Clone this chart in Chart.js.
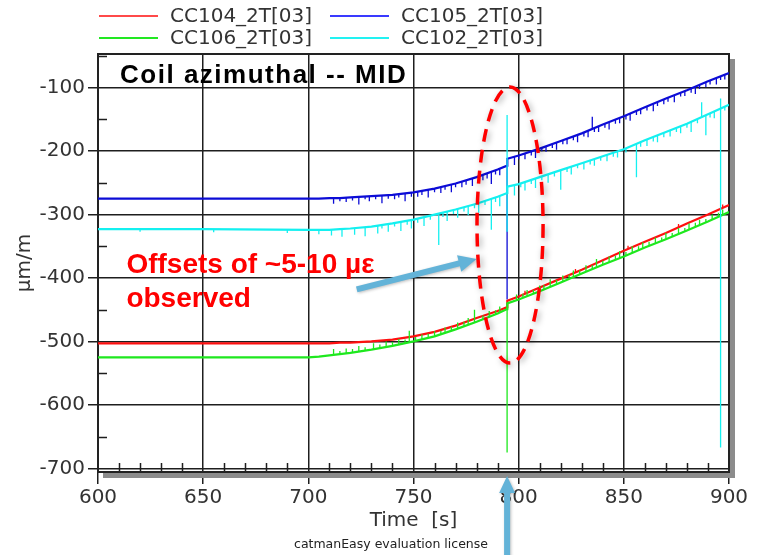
<!DOCTYPE html>
<html>
<head>
<meta charset="utf-8">
<title>Coil azimuthal -- MID</title>
<script src="https://cdn.jsdelivr.net/npm/chart.js@4.4.1/dist/chart.umd.min.js"></script>
<style>
  html, body { margin: 0; padding: 0; background: #fff; }
  #wrap { width: 759px; height: 555px; }
</style>
</head>
<body>
<div id="wrap"><canvas id="strainChart" width="759" height="555"></canvas></div>
<script>
// time axis [s]
const times = [600, 650, 700, 705, 710, 715, 720, 730, 740, 750, 760, 770, 780, 790, 794.5, 794.6,
               800, 810, 820, 830, 840, 850, 860, 870, 880, 890, 900];

// strain [µm/m], one value per entry in times
const cc104 = [-503, -503, -503, -503, -503, -502, -502, -500, -497, -492, -485, -475, -463, -452, -446, -436,
               -429, -415, -401, -387, -372, -357, -343, -329, -314, -300, -285];
const cc105 = [-275, -275, -275, -275, -274, -274, -273, -271, -269, -265, -259, -251, -241, -229, -223, -212,
               -207, -196, -184, -172, -158, -145, -131, -117, -104, -90, -77];
const cc106 = [-525, -525, -525, -524, -522, -520, -518, -513, -507, -500, -492, -481, -469, -456, -449, -440,
               -434, -421, -407, -393, -379, -366, -352, -339, -325, -311, -296];
const cc102 = [-323, -323, -324, -324, -324, -323, -322, -319, -314, -308, -300, -292, -283, -272, -266, -256,
               -252, -241, -230, -219, -208, -197, -183, -170, -157, -142, -127];

// spikes seen in the record: [time, from, to]
const cc104Spikes = [
  [803, -425, -420], [827, -391, -386], [852, -354, -349], [876, -320, -315], [897, -289, -284]
];
const cc105Spikes = [
  [712, -274, -283], [715, -274, -279], [718, -273, -280], [721, -273, -278], [724, -272, -284],
  [727, -271, -276], [729, -271, -279], [732, -271, -276], [735, -270, -282], [738, -269, -275],
  [741, -268, -276], [743, -268, -273], [746, -267, -279], [749, -266, -272], [752, -264, -272],
  [754, -263, -269], [757, -261, -273], [760, -259, -265], [763, -257, -266], [765, -255, -261],
  [768, -253, -265], [770, -251, -257], [773, -248, -257], [775, -246, -253], [778, -243, -255],
  [781, -240, -246], [783, -238, -246], [785, -236, -243], [787, -233, -252], [789, -231, -237],
  [791, -228, -238], [794.5, -223, -434], [798, -209, -222], [800, -207, -213], [803, -204, -213],
  [806, -200, -207], [808, -198, -211], [811, -194, -200], [813, -192, -201], [816, -188, -195],
  [818, -186, -198], [821, -183, -189], [823, -180, -189], [826, -177, -183], [828, -174, -186],
  [831, -170, -177], [833, -168, -178], [835, -165, -146], [836, -164, -170], [838, -161, -170],
  [841, -157, -163], [843, -154, -166], [846, -150, -157], [848, -147, -156], [851, -144, -150],
  [853, -141, -152], [856, -137, -143], [858, -134, -142], [861, -130, -136], [864, -125, -137],
  [866, -122, -129], [869, -118, -126], [871, -116, -122], [874, -112, -123], [877, -108, -114],
  [879, -105, -113], [882, -101, -108], [884, -99, -110], [886, -96, -102], [889, -91, -99],
  [891, -89, -95], [894, -85, -95], [896, -82, -88], [898, -80, -87]
];
const cc106Spikes = [
  [712, -521, -512], [715, -520, -515], [718, -519, -511], [721, -517, -512], [724, -516, -507],
  [727, -514, -509], [731, -512, -503], [734, -511, -505], [737, -509, -500], [740, -507, -501],
  [743, -505, -496], [746, -503, -497], [748, -501, -483], [751, -499, -493], [754, -497, -489],
  [757, -494, -488], [760, -492, -484], [763, -490, -483], [765, -487, -478], [768, -483, -477],
  [771, -480, -470], [774, -476, -469], [776, -474, -463], [779, -470, -450], [783, -466, -459],
  [786, -462, -452], [789, -457, -451], [791, -455, -445], [794.5, -449, -675], [799, -435, -426],
  [802, -431, -425], [804, -429, -419], [807, -425, -419], [810, -421, -412], [812, -418, -411],
  [815, -414, -402], [818, -410, -403], [821, -405, -396], [824, -401, -395], [826, -398, -388],
  [829, -394, -388], [832, -390, -380], [835, -386, -380], [837, -383, -370], [840, -379, -373],
  [843, -375, -366], [846, -371, -365], [848, -368, -358], [851, -365, -359], [854, -360, -350],
  [857, -356, -350], [859, -353, -344], [862, -349, -343], [865, -346, -336], [868, -342, -336],
  [870, -339, -329], [873, -335, -329], [876, -331, -321], [879, -327, -321], [881, -324, -314],
  [884, -319, -313], [886, -317, -308], [889, -313, -307], [892, -308, -300], [895, -303, -297],
  [897, -300, -292]
];
const cc102Spikes = [
  [620, -323, -327], [655, -323, -328], [690, -324, -329],
  [705, -324, -331], [711, -324, -333], [716, -323, -335], [722, -322, -332], [727, -320, -334],
  [733, -318, -330], [735, -317, -322], [738, -315, -327], [741, -313, -319], [744, -312, -326],
  [747, -310, -316], [749, -309, -322], [752, -307, -313], [755, -304, -318], [758, -302, -308],
  [762, -299, -348], [764, -297, -304], [766, -295, -310], [769, -293, -299], [771, -291, -305],
  [774, -289, -295], [776, -287, -301], [779, -284, -290], [781, -282, -297], [784, -279, -285],
  [787, -275, -324], [789, -273, -280], [791, -271, -287], [794.5, -143, -327], [798, -254, -270],
  [801, -251, -257], [803, -250, -262], [806, -246, -252], [808, -243, -258], [811, -240, -246],
  [814, -237, -250], [817, -233, -240], [820, -230, -261], [823, -227, -233], [825, -225, -237],
  [828, -221, -227], [831, -218, -229], [834, -214, -221], [836, -212, -223], [839, -209, -215],
  [842, -206, -216], [845, -202, -209], [847, -200, -210], [851, -196, -202], [856, -189, -241],
  [858, -186, -193], [861, -182, -192], [864, -178, -185], [866, -175, -186], [869, -171, -178],
  [872, -167, -177], [875, -164, -170], [877, -161, -172], [880, -157, -163], [882, -154, -170],
  [885, -150, -156], [887, -146, -123], [889, -144, -175], [891, -141, -147], [893, -138, -148],
  [896, -117, -667], [898, -130, -136]
];

const seriesNames = ['CC104_2T[03]', 'CC105_2T[03]', 'CC106_2T[03]', 'CC102_2T[03]'];

// axis ticks
const xMajorTicks = [600, 650, 700, 750, 800, 850, 900];
const xMinorTicks = [610, 620, 630, 640, 660, 670, 680, 690, 710, 720, 730, 740,
                     760, 770, 780, 790, 810, 820, 830, 840, 860, 870, 880, 890];
const yMajorTicks = [-700, -600, -500, -400, -300, -200, -100];
const yMinorTicks = [-650, -550, -450, -350, -250, -150, -50];

const colors = {
  'CC104_2T[03]': '#ff1010',
  'CC105_2T[03]': '#0c0cd6',
  'CC106_2T[03]': '#1ee81e',
  'CC102_2T[03]': '#14f0f0'
};
const legendColors = {
  'CC104_2T[03]': '#ff4a4a',
  'CC105_2T[03]': '#3a3aff',
  'CC106_2T[03]': '#22e822',
  'CC102_2T[03]': '#22f2f2'
};
const arrowBlue = '#63b3d8';
const gridColor = '#1e1e1e';
const textColor = '#333';

function toPoints(values) {
  return values.map((v, i) => ({ x: times[i], y: v }));
}

function spikePoints(list) {
  const pts = [];
  list.forEach(([t, a, b]) => {
    pts.push({ x: t, y: a }, { x: t, y: b }, { x: t, y: null });
  });
  return pts;
}

// draw order: cyan on top, blue below
const drawOrder = { 'CC102_2T[03]': 1, 'CC106_2T[03]': 2, 'CC104_2T[03]': 3, 'CC105_2T[03]': 4 };
const seriesValues = [cc104, cc105, cc106, cc102];
const seriesSpikes = [cc104Spikes, cc105Spikes, cc106Spikes, cc102Spikes];

const datasets = [];
seriesNames.forEach((name, i) => {
  datasets.push({
    label: name,
    data: toPoints(seriesValues[i]),
    borderColor: colors[name],
    backgroundColor: colors[name],
    borderWidth: 2.2,
    pointRadius: 0,
    tension: 0,
    order: drawOrder[name]
  });
  datasets.push({
    label: name + ' spikes',
    data: spikePoints(seriesSpikes[i]),
    borderColor: colors[name],
    borderWidth: 1.3,
    pointRadius: 0,
    spanGaps: false,
    order: drawOrder[name]
  });
});

function drawArrow(ctx, x1, y1, x2, y2, shaft, headLen, headW, color) {
  const ang = Math.atan2(y2 - y1, x2 - x1);
  const len = Math.hypot(x2 - x1, y2 - y1);
  ctx.save();
  ctx.translate(x1, y1);
  ctx.rotate(ang);
  ctx.fillStyle = color;
  ctx.shadowColor = 'rgba(0,0,0,0.25)';
  ctx.shadowBlur = 3;
  ctx.shadowOffsetX = 1;
  ctx.shadowOffsetY = 1;
  ctx.beginPath();
  ctx.moveTo(0, -shaft / 2);
  ctx.lineTo(len - headLen, -shaft / 2);
  ctx.lineTo(len - headLen, -headW / 2);
  ctx.lineTo(len, 0);
  ctx.lineTo(len - headLen, headW / 2);
  ctx.lineTo(len - headLen, shaft / 2);
  ctx.lineTo(0, shaft / 2);
  ctx.closePath();
  ctx.fill();
  ctx.restore();
}

const framePlugin = {
  id: 'framePlugin',
  beforeDatasetsDraw(chart) {
    const { ctx, chartArea: a, scales: { x, y } } = chart;
    ctx.save();
    // drop shadow of the plot box
    ctx.fillStyle = '#8c8c8c';
    ctx.fillRect(a.right + 1, a.top + 5, 5, a.bottom - a.top + 1);
    ctx.fillRect(a.left + 5, a.bottom + 1, a.right - a.left + 1, 5);
    // minor ticks, drawn inward
    ctx.strokeStyle = gridColor;
    ctx.lineWidth = 1.5;
    ctx.beginPath();
    yMinorTicks.forEach(v => {
      const py = Math.round(y.getPixelForValue(v)) + 0.5;
      ctx.moveTo(a.left, py);
      ctx.lineTo(a.left + 9, py);
    });
    xMinorTicks.forEach(v => {
      const px = Math.round(x.getPixelForValue(v)) + 0.5;
      ctx.moveTo(px, a.bottom);
      ctx.lineTo(px, a.bottom - 9);
    });
    ctx.stroke();
    // frame
    ctx.lineWidth = 2;
    ctx.strokeStyle = '#222';
    ctx.strokeRect(a.left, a.top, a.right - a.left, a.bottom - a.top);
    ctx.restore();
  },
  afterDraw(chart) {
    const { ctx, scales: { x, y } } = chart;
    ctx.save();

    // legend, two columns
    ctx.font = '20px "DejaVu Sans"';
    ctx.textBaseline = 'middle';
    ctx.textAlign = 'left';
    const legendPos = [[99, 16], [330, 16], [99, 38], [330, 38]];
    const legendOrder = ['CC104_2T[03]', 'CC105_2T[03]', 'CC106_2T[03]', 'CC102_2T[03]'];
    legendOrder.forEach((name, i) => {
      const [lx, ly] = legendPos[i];
      ctx.strokeStyle = legendColors[name];
      ctx.lineWidth = 2;
      ctx.beginPath();
      ctx.moveTo(lx, ly);
      ctx.lineTo(lx + 59, ly);
      ctx.stroke();
      ctx.fillStyle = textColor;
      ctx.fillText(name, lx + 71, ly + 1);
    });

    // licence note
    ctx.font = '12.5px "DejaVu Sans"';
    ctx.textAlign = 'center';
    ctx.fillStyle = '#222';
    ctx.fillText('catmanEasy evaluation license', 391, 545);

    // slide annotations
    ctx.textAlign = 'left';
    ctx.textBaseline = 'alphabetic';
    ctx.fillStyle = '#000';
    ctx.font = 'bold 26px "Liberation Sans", Arial, sans-serif';
    ctx.letterSpacing = '1.5px';
    ctx.fillText('Coil azimuthal -- MID', x.getPixelForValue(610.5), y.getPixelForValue(-92.5));
    ctx.letterSpacing = '0px';

    ctx.fillStyle = '#ff0000';
    ctx.font = 'bold 28px "Liberation Sans", Arial, sans-serif';
    ctx.fillText('Offsets of ~5-10 µε', x.getPixelForValue(613.5), y.getPixelForValue(-392));
    ctx.fillText('observed', x.getPixelForValue(613.5), y.getPixelForValue(-446));

    drawArrow(ctx, x.getPixelForValue(723), y.getPixelForValue(-418),
              x.getPixelForValue(780), y.getPixelForValue(-370), 6, 18, 17, arrowBlue);
    drawArrow(ctx, x.getPixelForValue(794.5), y.getPixelForValue(-845),
              x.getPixelForValue(794.5), y.getPixelForValue(-712), 6, 17, 16, arrowBlue);

    // dashed ellipse around the offsets
    const cx = x.getPixelForValue(795.9);
    const cy = y.getPixelForValue(-316.5);
    const rx = x.getPixelForValue(795.9 + 15.7) - cx;
    const ry = y.getPixelForValue(-316.5) - y.getPixelForValue(-316.5 + 217.6);
    ctx.shadowColor = 'rgba(0,0,0,0.35)';
    ctx.shadowBlur = 6;
    ctx.shadowOffsetX = 2;
    ctx.shadowOffsetY = 2;
    ctx.strokeStyle = '#ff0000';
    ctx.lineWidth = 3.5;
    ctx.setLineDash([13, 8]);
    ctx.beginPath();
    ctx.ellipse(cx, cy, rx, ry, 0, 0, Math.PI * 2);
    ctx.stroke();
    ctx.restore();
  }
};

const ctx = document.getElementById('strainChart').getContext('2d');
new Chart(ctx, {
  type: 'line',
  data: { datasets: datasets },
  options: {
    responsive: false,
    animation: false,
    devicePixelRatio: 1,
    layout: { padding: { left: 0, right: 30, top: 54, bottom: 20 } },
    plugins: {
      legend: { display: false },
      tooltip: { enabled: false },
      title: { display: false }
    },
    scales: {
      x: {
        type: 'linear',
        min: 600,
        max: 900,
        afterBuildTicks: scale => { scale.ticks = xMajorTicks.map(v => ({ value: v })); },
        afterFit: scale => { scale.height = 63; },
        grid: { color: gridColor, lineWidth: 1.5, tickLength: 12, tickColor: gridColor },
        border: { display: false },
        ticks: {
          padding: 2,
          color: textColor,
          font: { family: 'DejaVu Sans', size: 20 },
          maxRotation: 0
        },
        title: {
          display: true,
          text: 'Time  [s]',
          color: textColor,
          font: { family: 'DejaVu Sans', size: 20 },
          padding: { top: 0, bottom: 2 }
        }
      },
      y: {
        type: 'linear',
        min: -705.8,
        max: -46.9,
        afterBuildTicks: scale => { scale.ticks = yMajorTicks.map(v => ({ value: v })); },
        afterFit: scale => { scale.width = 98; },
        grid: { color: gridColor, lineWidth: 1.5, tickLength: 10, tickColor: gridColor },
        border: { display: false },
        ticks: {
          padding: 3,
          color: textColor,
          font: { family: 'DejaVu Sans', size: 20 }
        },
        title: {
          display: true,
          text: 'µm/m',
          color: textColor,
          font: { family: 'DejaVu Sans', size: 20 },
          padding: { top: 13, bottom: 0 }
        }
      }
    }
  },
  plugins: [framePlugin]
});
</script>
</body>
</html>
